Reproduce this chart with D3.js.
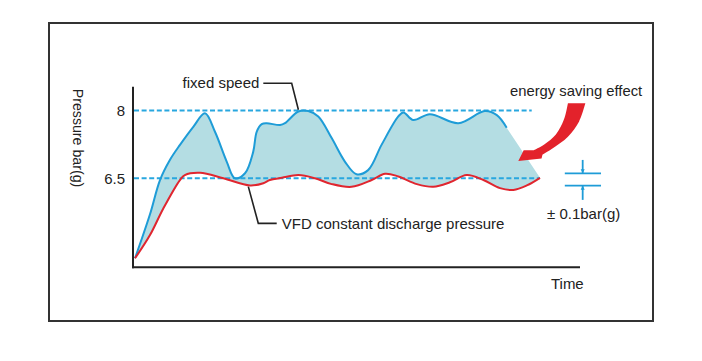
<!DOCTYPE html>
<html><head><meta charset="utf-8">
<script src="https://cdn.jsdelivr.net/npm/d3@7/dist/d3.min.js"></script>
<style>
body{margin:0;background:#fff}
svg{display:block}
text{font-family:"Liberation Sans",Arial,Helvetica,sans-serif;fill:#222}
</style></head><body>
<svg id="c" width="702" height="361"></svg>
<script>
// Fixed speed compressor pressure (time units 0-100, bar(g))
const fixedT = [0.45, 3.8, 6.04, 8.28, 10.51, 13.49, 16.1, 18.34, 20.96, 22.8, 25.06, 26.9, 27.67, 28.8, 29.9, 32.9, 34.0, 37.0, 39.2, 41.45, 44.45, 47.4, 50.0, 52.6, 55.6, 59.35, 60.5, 62.7, 66.4, 72.8, 78.7, 81.4, 83.6];
const fixedP = [4.725, 5.70, 6.46, 6.91, 7.24, 7.64, 7.94, 7.53, 6.87, 6.50, 6.61, 7.09, 7.53, 7.70, 7.72, 7.68, 7.72, 7.98, 7.99, 7.87, 7.39, 6.87, 6.59, 6.68, 7.24, 7.87, 7.96, 7.79, 7.92, 7.72, 7.99, 7.90, 7.62];
// VFD constant discharge pressure
const vfdT = [0.45, 3.8, 6.78, 10.5, 11.6, 15.0, 20.2, 26.2, 29.15, 30.6, 33.3, 37.0, 40.7, 44.45, 48.9, 53.4, 56.4, 59.35, 63.5, 67.2, 70.9, 74.65, 78.4, 82.1, 85.1, 88.1, 91.05];
const vfdP = [4.725, 5.24, 5.83, 6.46, 6.57, 6.62, 6.50, 6.34, 6.39, 6.46, 6.51, 6.57, 6.50, 6.37, 6.31, 6.46, 6.60, 6.54, 6.37, 6.31, 6.41, 6.57, 6.46, 6.28, 6.24, 6.34, 6.51];
// Reference pressure levels
const refLevels = [8, 6.5];
const refEnds = [89.2, 91.0];
const tickLabels = ["8", "6.5"];
// energy saving area closes at end of VFD curve
const areaEndT = 91.05, areaEndP = 6.51;

const svg = d3.select("#c");
const x = d3.scaleLinear().domain([0, 100]).range([133, 580]);
const y = d3.scaleLinear().domain([4.525, 8.53]).range([267.3, 86.7]);

const blue = "#1e9cd7", red = "#e0262f", dash = "#28a7df", fillC = "#b4dde3";

// frame
svg.append("rect").attr("x", 49).attr("y", 23).attr("width", 604).attr("height", 298)
  .attr("fill", "none").attr("stroke", "#333").attr("stroke-width", 2);

const fixedPts = fixedT.map((t, i) => [t, fixedP[i]]);
const vfdPts = vfdT.map((t, i) => [t, vfdP[i]]);

const line = d3.line().x(d => x(d[0])).y(d => y(d[1])).curve(d3.curveCatmullRom.alpha(0.5));
const plain = d3.line().x(d => x(d[0])).y(d => y(d[1]));

// shaded area
const topPath = line(fixedPts);
const botPath = line(vfdPts.slice().reverse());
const areaPath = topPath + "L" + x(areaEndT) + "," + y(areaEndP) + "L" + botPath.slice(1) + "Z";
svg.append("path").attr("d", areaPath).attr("fill", fillC);

// reference dashed lines
refLevels.forEach((lv, i) => {
  svg.append("line").attr("x1", x(0) + 1).attr("x2", x(refEnds[i]))
    .attr("y1", y(lv)).attr("y2", y(lv))
    .attr("stroke", dash).attr("stroke-width", 2).attr("stroke-dasharray", "5,2.6");
  svg.append("text").attr("x", x(0) - 8).attr("y", y(lv)).attr("dy", "0.36em")
    .attr("text-anchor", "end").attr("font-size", 15).text(tickLabels[i]);
});

// curves
svg.append("path").attr("d", topPath).attr("fill", "none").attr("stroke", blue).attr("stroke-width", 2);
svg.append("path").attr("d", line(vfdPts)).attr("fill", "none").attr("stroke", red).attr("stroke-width", 2);

// axes
svg.append("line").attr("x1", x(0)).attr("x2", x(0)).attr("y1", y(8.53)).attr("y2", y(4.525) + 1)
  .attr("stroke", "#222").attr("stroke-width", 2);
svg.append("line").attr("x1", x(0) - 1).attr("x2", x(100)).attr("y1", y(4.525)).attr("y2", y(4.525))
  .attr("stroke", "#222").attr("stroke-width", 2);

// axis titles
svg.append("text").attr("transform", "translate(77.5,138) rotate(90)")
  .attr("text-anchor", "middle").attr("dy", "0.35em").attr("font-size", 14.2).text("Pressure bar(g)");
svg.append("text").attr("x", x(93.5)).attr("y", 288.5).attr("font-size", 15).text("Time");

// leader: fixed speed
const fsLeader = [[29.15, 8.608], [35.5, 8.608], [37.0, 8.02]];
svg.append("path").attr("d", plain(fsLeader))
  .attr("fill", "none").attr("stroke", "#222").attr("stroke-width", 1.6);
svg.append("text").attr("x", x(11.1)).attr("y", 87.5).attr("font-size", 15).text("fixed speed");

// leader: VFD
const vfdLeader = [[25.8, 6.314], [28.03, 5.5], [32.15, 5.5]];
svg.append("path").attr("d", plain(vfdLeader))
  .attr("fill", "none").attr("stroke", "#222").attr("stroke-width", 1.6);
svg.append("text").attr("x", x(33.3)).attr("y", 228.5).attr("font-size", 15).text("VFD constant discharge pressure");

// energy saving arrow
const arrowLeft = [[97.3, 8.164], [96.4, 7.80], [94.6, 7.47], [92.0, 7.25], [89.6, 7.12]];
const arrowHead = [[87.4, 7.12], [86.2, 6.88], [91.4, 6.94]];
const arrowRight = [[91.6, 7.02], [94.0, 7.17], [97.3, 7.42], [99.8, 7.76], [101.2, 8.164]];
const arrowD = line(arrowLeft) + arrowHead.map(d => "L" + x(d[0]) + "," + y(d[1])).join("") +
  "L" + line(arrowRight).slice(1) + "Z";
svg.append("path").attr("d", arrowD).attr("fill", "#e3222b");
svg.append("text").attr("x", 510).attr("y", 96).attr("font-size", 14.8).text("energy saving effect");

// tolerance symbol
const tolLines = [6.61, 6.336];
const tolX = [96.6, 104.7], tolMid = 100.6;
tolLines.forEach(v => {
  svg.append("line").attr("x1", x(tolX[0])).attr("x2", x(tolX[1])).attr("y1", y(v)).attr("y2", y(v))
    .attr("stroke", blue).attr("stroke-width", 1.8);
});
svg.append("line").attr("x1", x(tolMid)).attr("x2", x(tolMid)).attr("y1", y(6.906)).attr("y2", y(6.61))
  .attr("stroke", blue).attr("stroke-width", 1.8);
svg.append("line").attr("x1", x(tolMid)).attr("x2", x(tolMid)).attr("y1", y(6.336)).attr("y2", y(6.02))
  .attr("stroke", blue).attr("stroke-width", 1.8);
// small arrowheads
const xm = x(tolMid);
svg.append("path").attr("d", `M${xm - 2},${y(6.61) - 4}L${xm + 2},${y(6.61) - 4}L${xm},${y(6.61)}Z`).attr("fill", blue);
svg.append("path").attr("d", `M${xm - 2},${y(6.336) + 4}L${xm + 2},${y(6.336) + 4}L${xm},${y(6.336)}Z`).attr("fill", blue);
svg.append("text").attr("x", 547).attr("y", 218.5).attr("font-size", 15).text("± 0.1bar(g)");
</script>
</body></html>
